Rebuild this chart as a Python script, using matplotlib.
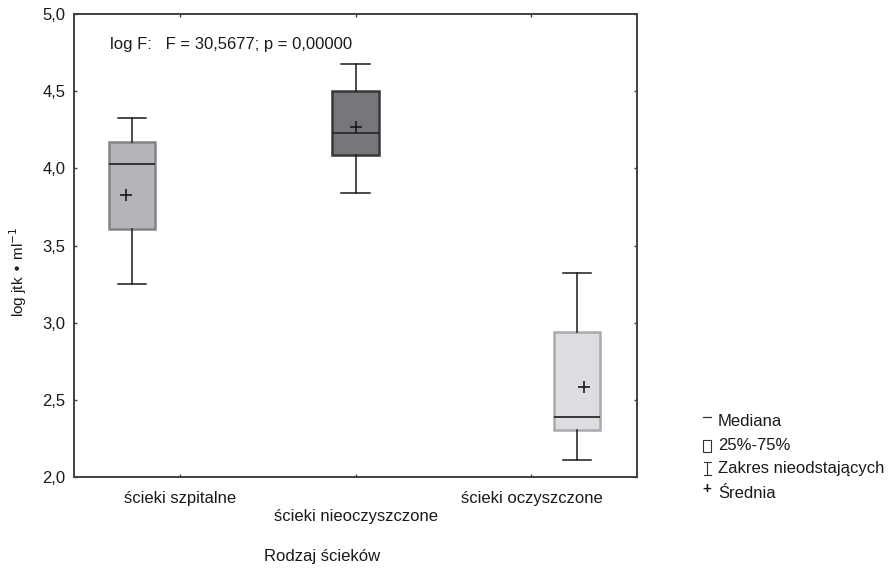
import matplotlib
matplotlib.use("Agg")
import matplotlib.pyplot as plt
from matplotlib.lines import Line2D
from matplotlib.patches import Rectangle

plt.rcParams["font.family"] = ["Liberation Sans", "DejaVu Sans"]

# Wastewater type groups and their log CFU statistics
categories = ["ścieki szpitalne", "ścieki nieoczyszczone", "ścieki oczyszczone"]
whisker_low = [3.25, 3.84, 2.11]
q1 = [3.61, 4.09, 2.30]
median = [4.03, 4.23, 2.39]
mean = [3.83, 4.27, 2.58]
q3 = [4.17, 4.50, 2.94]
whisker_high = [4.33, 4.68, 3.32]

y_ticks = [2.0, 2.5, 3.0, 3.5, 4.0, 4.5, 5.0]
y_tick_labels = ["2,0", "2,5", "3,0", "3,5", "4,0", "4,5", "5,0"]
legend_labels = ["Mediana", "25%-75%", "Zakres nieodstających", "Średnia"]
anova_text = "log F:   F = 30,5677; p = 0,00000"

FS = 12

fig = plt.figure(figsize=(8.96, 5.68), dpi=100)
W, H = 896, 568
ax = fig.add_axes([74 / W, 1 - 476.7 / H, (637 - 74) / W, (476.7 - 14.3) / H])

box_pos = [-0.27, 1.0, 2.26]
mean_pos = [-0.305, 1.0, 2.30]
fills = ["#b4b5b9", "#76777b", "#dcdde0"]
edges = ["#838488", "#38383a", "#a9aaad"]

stats = []
for i, name in enumerate(categories):
    stats.append(dict(label=name, whislo=whisker_low[i], q1=q1[i], med=median[i],
                      q3=q3[i], whishi=whisker_high[i], mean=mean[i], fliers=[]))

bp = ax.bxp(stats, positions=box_pos, widths=0.265, capwidths=0.16,
            patch_artist=True, showmeans=False, showfliers=False,
            manage_ticks=False,
            medianprops=dict(color="#2a2a2a", linewidth=1.3),
            whiskerprops=dict(color="#1a1a1a", linewidth=1.1),
            capprops=dict(color="#1a1a1a", linewidth=1.1))
for patch, fc, ec in zip(bp["boxes"], fills, edges):
    patch.set_facecolor(fc)
    patch.set_edgecolor(ec)
    patch.set_linewidth(1.8)
    patch.set_zorder(2)

ax.plot(mean_pos, mean, linestyle="none", marker="+", markersize=9,
        markeredgewidth=1.2, color="#1a1a1a", zorder=4)

ax.set_xlim(-0.6, 2.6)
ax.set_ylim(2.0, 5.0)
ax.set_yticks(y_ticks)
ax.set_yticklabels(y_tick_labels)
ax.set_xticks([0, 1, 2])
ax.set_xticklabels(categories)

for side in ax.spines.values():
    side.set_color("#404040")
    side.set_linewidth(1.4)
ax.tick_params(axis="both", direction="in", length=2.5, width=1.0, color="#404040",
               labelsize=FS, labelcolor="#1a1a1a", top=True, right=True)
ax.tick_params(axis="y", pad=6)
ax.tick_params(axis="x", pad=10)
# stagger the middle category label onto a second row
ax.xaxis.get_major_ticks()[1].set_pad(23)

ax.text(110 / W, 1 - 45 / H, anova_text, transform=fig.transFigure,
        fontsize=FS, color="#1a1a1a", va="center", ha="left")

fig.text(18 / W, 1 - 272 / H, "log jtk • ml$^{-1}$", rotation=90, fontsize=11,
         color="#1a1a1a", va="center", ha="center")
fig.text(322 / W, 1 - 556 / H, "Rodzaj ścieków", fontsize=FS, color="#1a1a1a",
         va="center", ha="center")

# Legend drawn in figure pixel coordinates
rows = [422, 446, 469, 493]
text_x = 718
for label, y in zip(legend_labels, rows):
    fig.text(text_x / W, 1 - y / H, label, fontsize=FS, color="#1a1a1a",
             va="center", ha="left")
sx = 707
fig.add_artist(Line2D([(sx - 4) / W, (sx + 4) / W], [1 - 417 / H] * 2,
                      color="#333333", linewidth=0.9))
fig.add_artist(Rectangle(((sx - 4) / W, 1 - 452 / H), 8 / W, 12 / H,
                         fill=False, edgecolor="#333333", linewidth=0.8))
fig.add_artist(Line2D([sx / W, sx / W], [1 - 462 / H, 1 - 475 / H],
                      color="#333333", linewidth=0.8))
for yy in (462, 475):
    fig.add_artist(Line2D([(sx - 3.5) / W, (sx + 3.5) / W], [1 - yy / H] * 2,
                          color="#333333", linewidth=0.8))
fig.text(sx / W, 1 - 489 / H, "+", fontsize=11, fontweight="bold",
         color="#1a1a1a", va="center", ha="center")

fig.savefig("out.png", dpi=100, facecolor="white")
